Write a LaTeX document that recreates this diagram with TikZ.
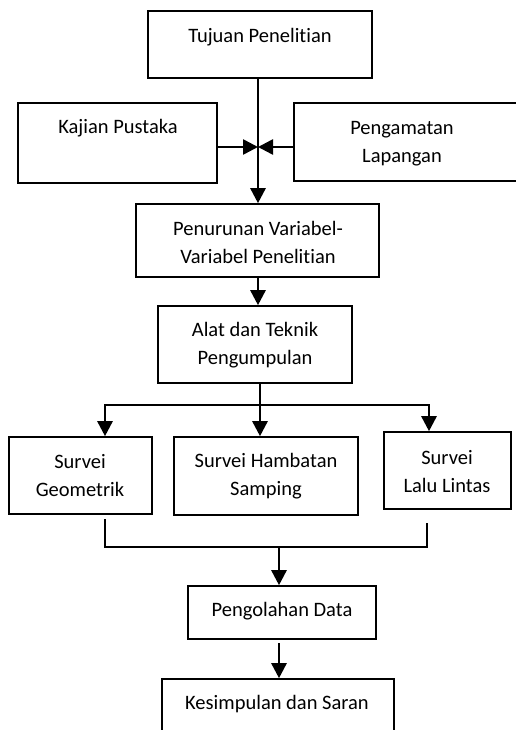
\documentclass[tikz,border=0pt]{standalone}
\usepackage{fontspec}
\setmainfont{Carlito}[Ligatures={NoCommon}]
\usetikzlibrary{arrows.meta}
\begin{document}
\begin{tikzpicture}[x=1pt,y=-1pt,
  box/.style={draw,line width=1.6pt,inner sep=0pt},
  txt/.style={font=\fontsize{20.5}{28}\selectfont,align=center,inner sep=0pt},
  arr/.style={line width=2.6pt,-{Triangle[width=15pt,length=15pt]}},
  bar/.style={line width=2.6pt},
  thinline/.style={line width=1.3pt}]
\useasboundingbox (0,0) rectangle (515,730);
% boxes
\node[box,minimum width=224pt,minimum height=67pt] (tujuan) at (260,44.5) {};
\node[box,minimum width=199pt,minimum height=80pt] (kajian) at (117.5,143) {};
\node[box,minimum width=231pt,minimum height=78pt] (pengamatan) at (409.5,142) {};
\node[box,minimum width=243pt,minimum height=73pt] (penurunan) at (257.5,240.5) {};
\node[box,minimum width=194pt,minimum height=77pt] (alat) at (255,344.5) {};
\node[box,minimum width=143pt,minimum height=77pt] (geom) at (80.5,475.5) {};
\node[box,minimum width=184pt,minimum height=78pt] (hambatan) at (266,476) {};
\node[box,minimum width=127pt,minimum height=77pt] (lalu) at (447.5,470.5) {};
\node[box,minimum width=188pt,minimum height=53pt] (pengolahan) at (282,612.5) {};
\node[box,minimum width=232pt,minimum height=66pt] (kesimpulan) at (278,712) {};
% texts
\node[txt] (ttujuan) at (260,37) {Tujuan Penelitian};
\node[txt] (tkajian) at (118,128) {Kajian Pustaka};
\node[txt] (tpengamatan) at (402,143.5) {Pengamatan\\Lapangan};
\node[txt] (tpenurunan) at (258,242) {Penurunan Variabel-\\Variabel Penelitian};
\node[txt] (talat) at (255,345) {Alat dan Teknik\\Pengumpulan};
\node[txt] (tgeom) at (80,475.5) {Survei\\Geometrik};
\node[txt] (thambatan) at (266,476) {Survei Hambatan\\Samping};
\node[txt] (tlalu) at (447,472) {Survei\\Lalu Lintas};
\node[txt] (tpengolahan) at (282,611) {Pengolahan Data};
\node[txt] (tkesimpulan) at (277,704) {Kesimpulan dan Saran};
% connectors
\coordinate (j) at (258,147);
\draw[arr] (tujuan.south -| j) -- (j |- penurunan.north);
\draw[arr] (kajian.east |- j) -- (j);
\draw[arr] (pengamatan.west |- j) -- (j);
\draw[arr] (penurunan.south -| j) -- (j |- alat.north);
\coordinate (s) at (260,405);
\coordinate (sl) at (105,405);
\coordinate (sr) at (429,405);
\draw[bar] (alat.south -| s) -- (s);
\draw[arr] (s) -- (sl) -- (sl |- geom.north);
\draw[arr] (s) -- (s |- hambatan.north);
\draw[arr] (s) -- (sr) -- (sr |- lalu.north);
\coordinate (g1) at (105,519);
\coordinate (l1) at (427,523);
\coordinate (ml) at (105,547);
\coordinate (mr) at (427,547);
\coordinate (m) at (279,547);
\draw[thinline] (g1) -- (ml) -- (mr) -- (l1);
\draw[arr] (m) -- (m |- pengolahan.north);
\coordinate (p1) at (279,643);
\draw[arr] (p1) -- (p1 |- kesimpulan.north);
\end{tikzpicture}
\end{document}
